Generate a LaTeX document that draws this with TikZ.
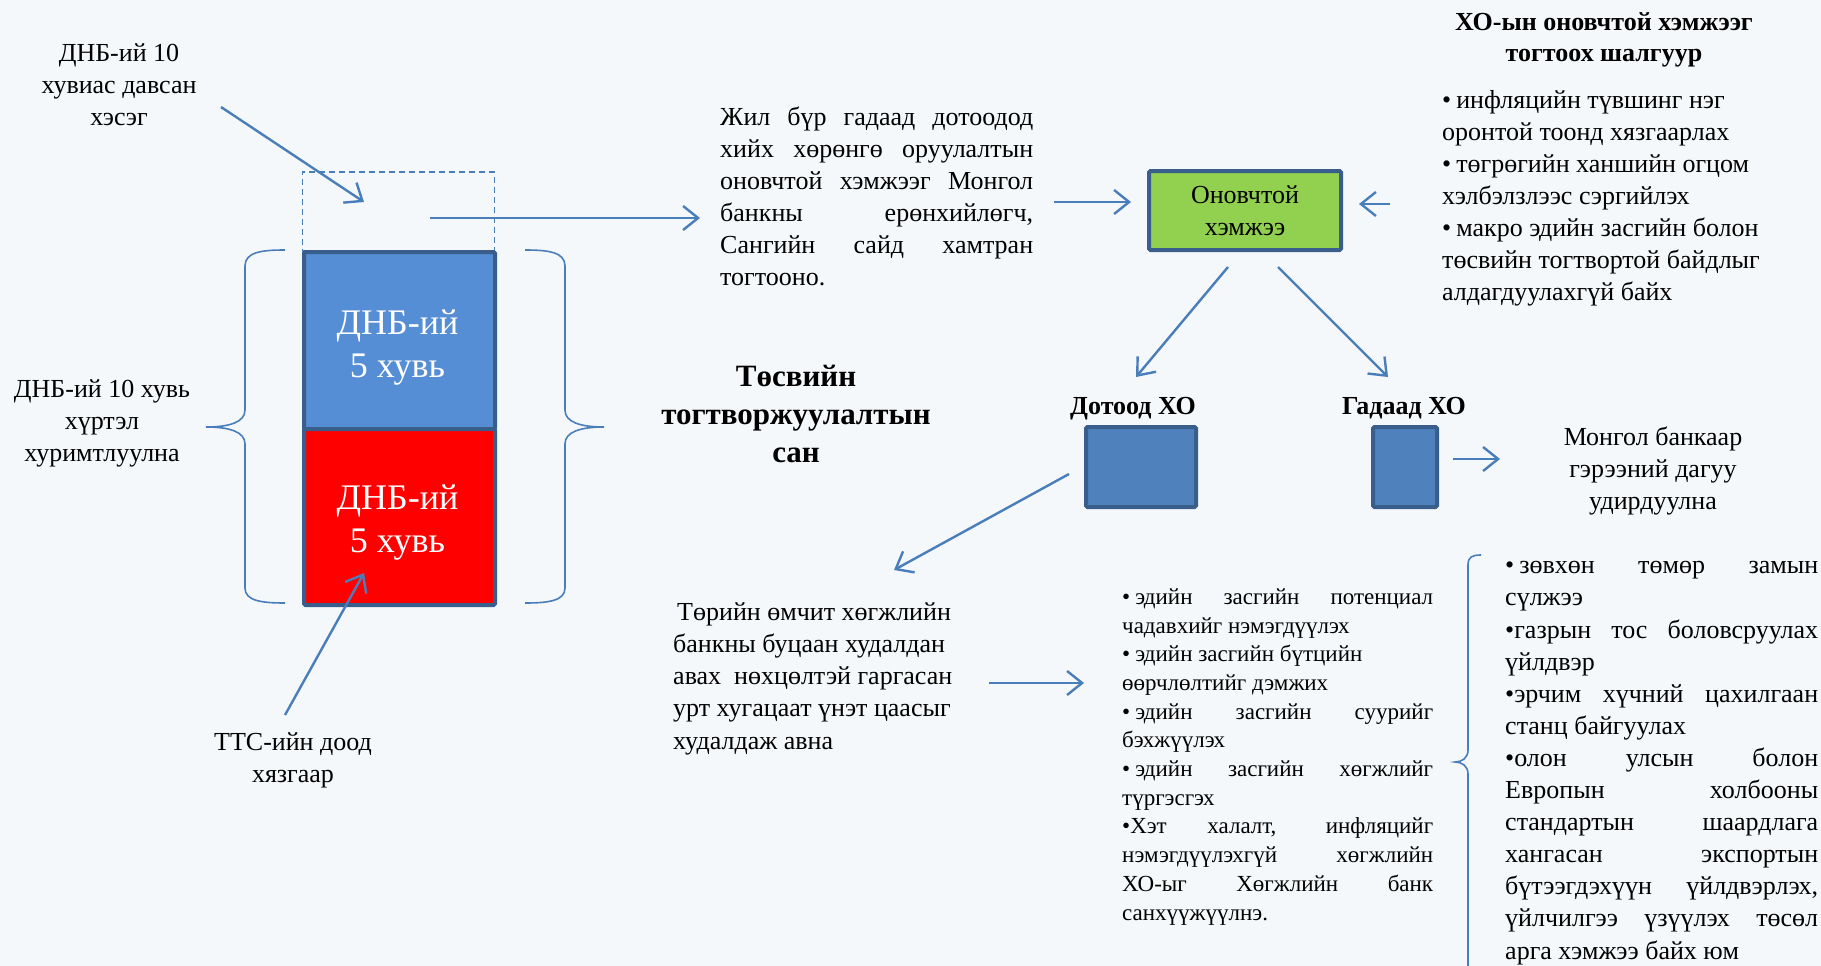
\documentclass[tikz,border=0pt]{standalone}
\usepackage{fontspec}
\setmainfont{Liberation Serif}
\usetikzlibrary{arrows.meta}
\definecolor{bg}{HTML}{F5F8FA}
\definecolor{arr}{HTML}{4A7EBB}
\definecolor{bord}{HTML}{3A5E8C}
\definecolor{lblue}{HTML}{558ED5}
\definecolor{mblue}{HTML}{4F81BD}
\definecolor{lgreen}{HTML}{92D050}
\newcommand\jj[2]{\makebox[#1][s]{#2}}
\newcommand\bul{•\kern5pt}
\begin{document}
\begin{tikzpicture}[x=1pt,y=-1pt,
  conn/.style={draw=arr, line width=2.4pt, -{Straight Barb[length=15pt,width=24pt]}},
  bracepath/.style={draw=arr, line width=1.6pt},
  boxst/.style={draw=bord, line width=4pt, rounded corners=1.5pt, inner sep=0pt},
  t26/.style={inner sep=0pt, font=\fontsize{26}{32}\selectfont},
  b26/.style={inner sep=0pt, font=\bfseries\fontsize{26}{32}\selectfont},
  big/.style={inner sep=0pt, text=white, align=center, font=\fontsize{36}{43}\selectfont}
]
\fill[bg] (0,0) rectangle (1821,966);
\useasboundingbox (0,0) rectangle (1821,966);

% left column texts (anchor = baseline of last line)
\node[t26, align=center, anchor=base] (exc) at (119,125) {ДНБ-ий 10\\хувиас давсан\\хэсэг};
\node[t26, align=center, anchor=base] (acc) at (102,461) {ДНБ-ий 10 хувь\\хүртэл\\хуримтлуулна};
\node[t26, align=center, anchor=base] (tts) at (293,782) {ТТС-ийн доод\\хязгаар};

% dashed excess box and stacked boxes
\node[draw=arr, line width=1.5pt, dash pattern=on 6pt off 4pt, minimum width=192pt, minimum height=79pt, inner sep=0pt, anchor=north west] (excbox) at (301.5,171) {};
\node[boxst, fill=lblue, minimum width=191pt, minimum height=177pt, anchor=north west] (blue5) at (302,250) {};
\node[boxst, fill=red, minimum width=191pt, minimum height=176pt, anchor=north west] (red5) at (302,427) {};
\node[big, anchor=base] (blue5t) at (397.5,377) {ДНБ-ий\\5 хувь};
\node[big, anchor=base] (red5t) at (397.5,552) {ДНБ-ий\\5 хувь};

% braces
\draw[bracepath] (285,250) .. controls (262,250) and (245,252) .. (245,266) -- (245,410) .. controls (245,422) and (230,427) .. (206,427) .. controls (230,427) and (245,432) .. (245,444) -- (245,588) .. controls (245,601) and (262,603) .. (285,603);
\draw[bracepath] (525,250) .. controls (548,250) and (565,252) .. (565,266) -- (565,410) .. controls (565,422) and (580,427) .. (604,427) .. controls (580,427) and (565,432) .. (565,444) -- (565,588) .. controls (565,601) and (548,603) .. (525,603);

% fund title
\node[inner sep=0pt, align=center, anchor=base, font=\bfseries\fontsize{31}{38}\selectfont] (fund) at (796,462) {Төсвийн\\тогтворжуулалтын\\сан};

% main paragraph
\node[t26, align=left, anchor=base west] (para) at (720,285) {%
\jj{313pt}{Жил бүр гадаад дотоодод}\\
\jj{313pt}{хийх хөрөнгө оруулалтын}\\
\jj{313pt}{оновчтой хэмжээг Монгол}\\
\jj{313pt}{банкны ерөнхийлөгч,}\\
\jj{313pt}{Сангийн сайд хамтран}\\
тогтооно.};

% optimal size box
\node[boxst, fill=lgreen, minimum width=192pt, minimum height=79pt, align=center, font=\fontsize{26}{32}\selectfont] (opt) at (1245,210.5) {Оновчтой\\хэмжээ};

% criteria
\node[b26, align=center, anchor=base] (crit) at (1604,62) {ХО-ын оновчтой хэмжээг\\тогтоох шалгуур};
\node[t26, align=left, anchor=base west] (critlist) at (1442,300) {\bul инфляцийн түвшинг нэг\\оронтой тоонд хязгаарлах\\\bul төгрөгийн ханшийн огцом\\хэлбэлзлээс сэргийлэх\\\bul макро эдийн засгийн болон\\төсвийн тогтвортой байдлыг\\алдагдуулахгүй байх};

% domestic / foreign
\node[b26, anchor=base] (dotl) at (1133,414) {Дотоод ХО};
\node[boxst, fill=mblue, minimum width=110pt, minimum height=80pt] (dot) at (1141,467) {};
\node[b26, anchor=base] (gadl) at (1404,414) {Гадаад ХО};
\node[boxst, fill=mblue, minimum width=64pt, minimum height=80pt] (gad) at (1405,467) {};

\node[t26, align=center, anchor=base] (mb) at (1653,509) {Монгол банкаар\\гэрээний дагуу\\удирдуулна};

% state bank text
\node[inner sep=0pt, font=\fontsize{26}{32.2}\selectfont, align=left, anchor=base west] (tor) at (673,749) {\hspace*{4pt}Төрийн өмчит хөгжлийн\\банкны буцаан худалдан\\авах\ \ нөхцөлтэй гаргасан\\урт хугацаат үнэт цаасыг\\худалдаж авна};

% middle list
\node[inner sep=0pt, font=\fontsize{23}{28.7}\selectfont, align=left, anchor=base west] (mid) at (1122,920) {%
\jj{311pt}{\bul эдийн засгийн потенциал}\\
чадавхийг нэмэгдүүлэх\\
\bul эдийн засгийн бүтцийн\\
өөрчлөлтийг дэмжих\\
\jj{311pt}{\bul эдийн засгийн суурийг}\\
бэхжүүлэх\\
\jj{311pt}{\bul эдийн засгийн хөгжлийг}\\
түргэсгэх\\
\jj{311pt}{•Хэт халалт, инфляцийг}\\
\jj{311pt}{нэмэгдүүлэхгүй хөгжлийн}\\
\jj{311pt}{ХО-ыг Хөгжлийн банк}\\
санхүүжүүлнэ.};

% right list with bracket
\draw[bracepath] (1481,555) .. controls (1472,555) and (1468,557) .. (1468,565) -- (1468,750) .. controls (1468,758) and (1462,762) .. (1455,762) .. controls (1462,762) and (1468,766) .. (1468,774) -- (1468,966);
\node[inner sep=0pt, font=\fontsize{26}{32.1}\selectfont, align=left, anchor=base west] (rl) at (1505,959) {%
\jj{313pt}{\bul зөвхөн төмөр замын}\\
сүлжээ\\
\jj{313pt}{•газрын тос боловсруулах}\\
үйлдвэр\\
\jj{313pt}{•эрчим хүчний цахилгаан}\\
станц байгуулах\\
\jj{313pt}{•олон улсын болон}\\
\jj{313pt}{Европын холбооны}\\
\jj{313pt}{стандартын шаардлага}\\
\jj{313pt}{хангасан экспортын}\\
\jj{313pt}{бүтээгдэхүүн үйлдвэрлэх,}\\
\jj{313pt}{үйлчилгээ үзүүлэх төсөл}\\
арга хэмжээ байх юм};

% connector end points
\coordinate (c1s) at (221,107); \coordinate (c1e) at (364,202);
\coordinate (c2s) at (285,715); \coordinate (c2e) at (364,573);
\coordinate (c3s) at (430,218); \coordinate (c3e) at (700,218);
\coordinate (c4s) at (1054,202); \coordinate (c4e) at (1131,202);
\coordinate (c5s) at (1390,204); \coordinate (c5e) at (1359,204);
\coordinate (c6s) at (1228,267); \coordinate (c6e) at (1136,377);
\coordinate (c7s) at (1278,267); \coordinate (c7e) at (1388,377);
\coordinate (c8s) at (1069,474); \coordinate (c8e) at (894,570);
\coordinate (c9s) at (1453,459); \coordinate (c9e) at (1500,459);
\coordinate (c10s) at (989,683); \coordinate (c10e) at (1084,683);

\draw[conn] (c1s) -- (c1e);
\draw[conn] (c2s) -- (c2e);
\draw[conn] (c3s) -- (c3e);
\draw[conn] (c4s) -- (c4e);
\draw[conn] (c5s) -- (c5e);
\draw[conn] (c6s) -- (c6e);
\draw[conn] (c7s) -- (c7e);
\draw[conn] (c8s) -- (c8e);
\draw[conn] (c9s) -- (c9e);
\draw[conn] (c10s) -- (c10e);
\end{tikzpicture}
\end{document}
